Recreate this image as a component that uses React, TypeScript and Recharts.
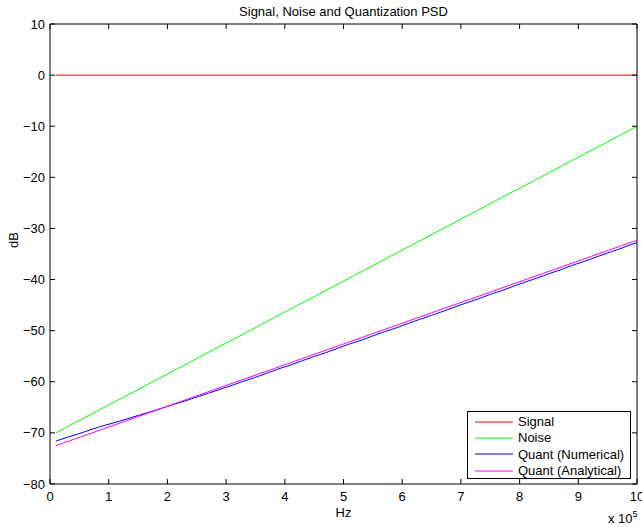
import { LineChart, Line, XAxis, YAxis } from "recharts";

// frequency in units of 1e5 Hz
const lineEndsHz = [0.1, 10];
const signalDb = [0, 0];
const noiseDb = [-70, -10];
const quantAnalyticalDb = [-72.5, -32.3];

const quantFreq = [
  0.1, 0.3, 0.5, 0.7, 0.9, 1.1, 1.3, 1.5, 1.7, 1.9, 2.1, 2.3, 2.5, 2.7, 2.9,
  3.1, 3.3, 3.5, 3.7, 3.9, 4.1, 4.3, 4.5, 4.7, 4.9, 5.1, 5.3, 5.5, 5.7, 5.9,
  6.1, 6.3, 6.5, 6.7, 6.9, 7.1, 7.3, 7.5, 7.7, 7.9, 8.1, 8.3, 8.5, 8.7, 8.9,
  9.1, 9.3, 9.5, 9.7, 9.9, 10,
];
const quantNumericalDb = [
  -71.6, -70.84, -70.13, -69.36, -68.62, -68.0, -67.3, -66.6, -65.9, -65.2,
  -64.45, -63.75, -62.98, -62.25, -61.45, -60.7, -59.88, -59.12, -58.3, -57.45,
  -56.72, -55.88, -55.05, -54.3, -53.45, -52.62, -51.88, -51.02, -50.2, -49.45,
  -48.6, -47.78, -47.0, -46.2, -45.35, -44.55, -43.76, -42.9, -42.15, -41.3,
  -40.48, -39.7, -38.86, -38.08, -37.22, -36.45, -35.62, -34.8, -34.02, -33.15,
  -32.75,
];

const xTicks = [0, 1, 2, 3, 4, 5, 6, 7, 8, 9, 10];
const yTicks = [-80, -70, -60, -50, -40, -30, -20, -10, 0, 10];

const series = [
  { name: "Signal", color: "#ff0000", xs: lineEndsHz, ys: signalDb },
  { name: "Noise", color: "#00ff00", xs: lineEndsHz, ys: noiseDb },
  { name: "Quant (Numerical)", color: "#0000ff", xs: quantFreq, ys: quantNumericalDb },
  { name: "Quant (Analytical)", color: "#ff00ff", xs: lineEndsHz, ys: quantAnalyticalDb },
];

const font = '"Liberation Sans", Arial, Helvetica, sans-serif';
const fmt = (v: number) => (v < 0 ? `\u2212${-v}` : `${v}`);
const toPoints = (xs: number[], ys: number[]) => xs.map((x, i) => ({ x, y: ys[i] }));

const LeftTick = (p: any) => (
  <g>
    <line x1={p.x + 5} x2={p.x + 10} y1={p.y} y2={p.y} stroke="#000" />
    <text x={p.x} y={p.y} dy="0.35em" textAnchor="end" fontSize={13} fontFamily={font} fill="#000">
      {fmt(p.payload.value)}
    </text>
  </g>
);

const RightTick = (p: any) => (
  <line x1={p.x - 5} x2={p.x} y1={p.y} y2={p.y} stroke="#000" />
);

const BottomTick = (p: any) => (
  <g>
    <line x1={p.x} x2={p.x} y1={p.y - 8} y2={p.y - 13} stroke="#000" />
    <text x={p.x} y={p.y} dy="0.71em" textAnchor="middle" fontSize={13} fontFamily={font} fill="#000">
      {fmt(p.payload.value)}
    </text>
  </g>
);

const TopTick = (p: any) => (
  <line x1={p.x} x2={p.x} y1={p.y} y2={p.y + 5} stroke="#000" />
);

const LegendBox = () => (
  <div
    style={{
      position: "absolute",
      left: 467,
      top: 411,
      boxSizing: "border-box",
      width: 164,
      height: 68,
      border: "1px solid #000",
      background: "#fff",
      paddingTop: 1.5,
      fontFamily: font,
      fontSize: 13,
      color: "#000",
    }}
  >
    {series.map((s) => (
      <div key={s.name} style={{ display: "flex", alignItems: "center", height: 16.3 }}>
        <svg width={50} height={4} style={{ flex: "none" }}>
          <line x1={7} x2={45} y1={2} y2={2} stroke={s.color} />
        </svg>
        <span style={{ whiteSpace: "nowrap" }}>{s.name}</span>
      </div>
    ))}
  </div>
);

export default function App() {
  return (
    <div style={{ position: "absolute", left: 0, top: 0, width: 642, height: 527, background: "#fff", overflow: "hidden" }}>
      <LineChart width={642} height={527} margin={{ top: 23, right: 4, bottom: 13, left: 10 }}>
        <XAxis
          xAxisId="bottom"
          dataKey="x"
          type="number"
          domain={[0, 10]}
          ticks={xTicks}
          interval={0}
          height={30}
          tickSize={0}
          tickMargin={8}
          tick={BottomTick}
          axisLine={{ stroke: "#000" }}
          allowDataOverflow
        />
        <XAxis
          xAxisId="top"
          orientation="top"
          dataKey="x"
          type="number"
          domain={[0, 10]}
          ticks={xTicks}
          interval={0}
          height={1}
          tickSize={0}
          tickMargin={0}
          tick={TopTick}
          axisLine={{ stroke: "#000" }}
          allowDataOverflow
        />
        <YAxis
          yAxisId="left"
          type="number"
          domain={[-80, 10]}
          ticks={yTicks}
          interval={0}
          width={40}
          tickSize={0}
          tickMargin={5}
          tick={LeftTick}
          axisLine={{ stroke: "#000" }}
          allowDataOverflow
        />
        <YAxis
          yAxisId="right"
          orientation="right"
          type="number"
          domain={[-80, 10]}
          ticks={yTicks}
          interval={0}
          width={1}
          tickSize={0}
          tickMargin={0}
          tick={RightTick}
          axisLine={{ stroke: "#000" }}
          allowDataOverflow
        />
        {series.map((s) => (
          <Line
            key={s.name}
            xAxisId="bottom"
            yAxisId="left"
            data={toPoints(s.xs, s.ys)}
            dataKey="y"
            name={s.name}
            stroke={s.color}
            strokeWidth={1}
            dot={false}
            type="linear"
            isAnimationActive={false}
          />
        ))}
      </LineChart>
      <LegendBox />
      <div
        style={{
          position: "absolute",
          left: 343.5,
          top: 4,
          transform: "translateX(-50%)",
          whiteSpace: "nowrap",
          fontFamily: font,
          fontSize: 13,
          lineHeight: "16px",
        }}
      >
        Signal, Noise and Quantization PSD
      </div>
      <div
        style={{
          position: "absolute",
          left: 343.5,
          top: 505,
          transform: "translateX(-50%)",
          fontFamily: font,
          fontSize: 13,
          lineHeight: "16px",
        }}
      >
        Hz
      </div>
      <div
        style={{
          position: "absolute",
          left: 14,
          top: 240,
          transform: "translate(-50%, -50%) rotate(-90deg)",
          fontFamily: font,
          fontSize: 13,
          lineHeight: "16px",
        }}
      >
        dB
      </div>
      <div
        style={{
          position: "absolute",
          left: 608,
          top: 511,
          whiteSpace: "nowrap",
          fontFamily: font,
          fontSize: 13,
          lineHeight: "16px",
        }}
      >
        x 10<sup style={{ fontSize: 9, verticalAlign: "top", lineHeight: "9px", position: "relative", top: -1 }}>5</sup>
      </div>
    </div>
  );
}
